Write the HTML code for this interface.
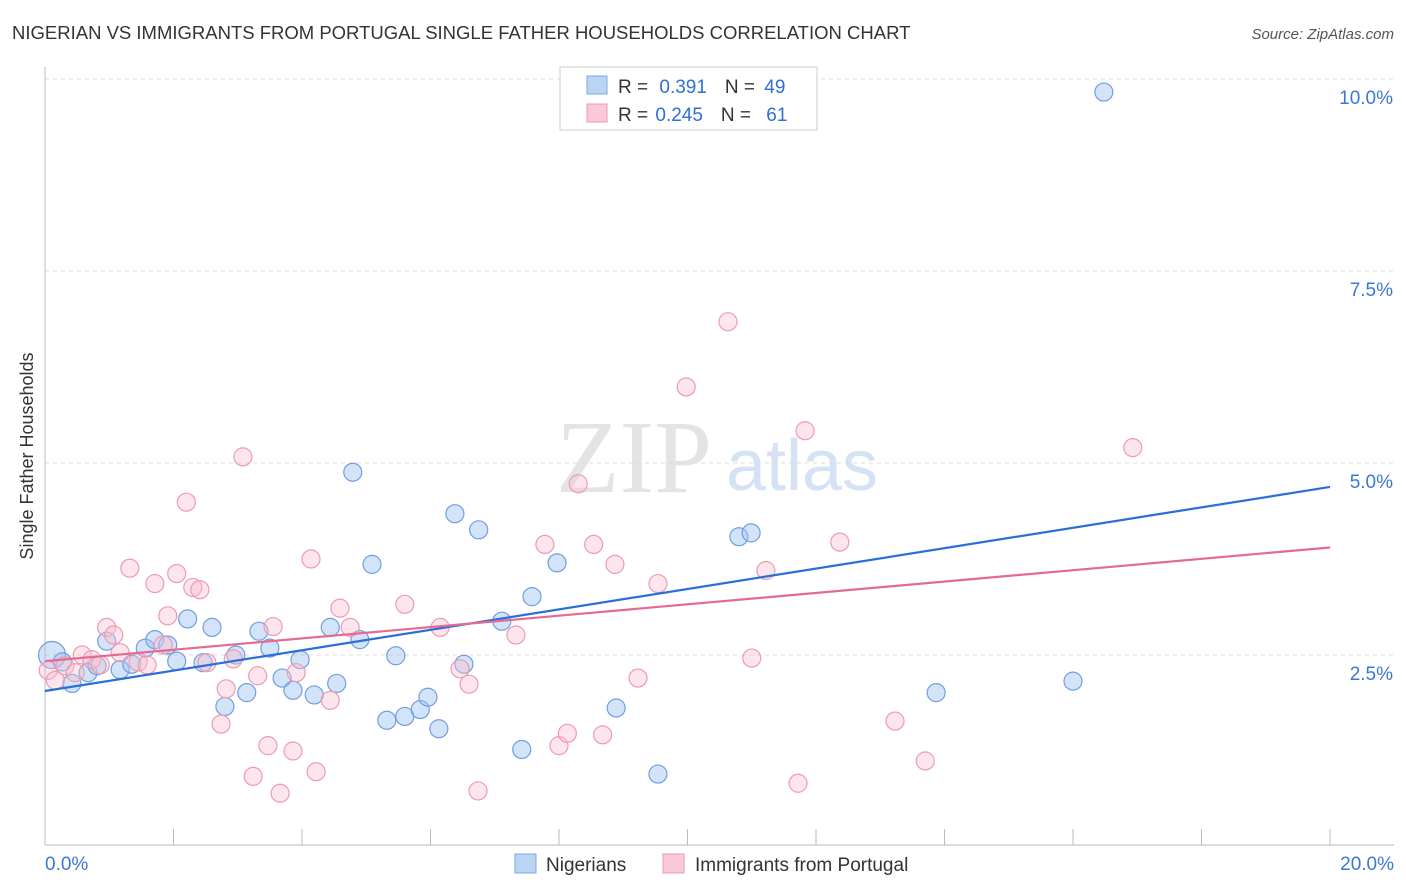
<!DOCTYPE html>
<html><head><meta charset="utf-8"><style>
body{margin:0;background:#fff;font-family:"Liberation Sans",sans-serif;}
svg{display:block}
</style></head><body>
<svg id="chart" width="1406" height="892">
<text x="12" y="39" font-size="18.5" fill="#333">NIGERIAN VS IMMIGRANTS FROM PORTUGAL SINGLE FATHER HOUSEHOLDS CORRELATION CHART</text>
<text x="1394" y="39" font-size="15" fill="#555" font-style="italic" text-anchor="end">Source: ZipAtlas.com</text>
<text x="33" y="456" font-size="18" fill="#333" text-anchor="middle" transform="rotate(-90 33 456)">Single Father Households</text>
<g>
<text x="634" y="492" font-size="104" fill="#e4e4e4" font-family="Liberation Serif,serif" text-anchor="middle">ZIP</text>
<text x="802" y="490" font-size="72" fill="#d4e2f4" text-anchor="middle">atlas</text>
</g>
<g id="grid"></g><g id="axes"></g><g id="pts"></g><g id="lines"></g>
<g>
<rect x="560" y="67" width="257" height="63" fill="#fff" stroke="#ccc"/>
<rect x="587" y="76" width="20" height="18" fill="#bcd4f4" stroke="#7aa7e6"/>
<rect x="587" y="104" width="20" height="18" fill="#f9c9d7" stroke="#ec9ab3"/>
<text x="618" y="93" font-size="19" fill="#333">R = <tspan fill="#2f6fd6" dx="6">0.391</tspan><tspan dx="18" fill="#333">N = </tspan><tspan fill="#2f6fd6" dx="4">49</tspan></text>
<text x="618" y="121" font-size="19" fill="#333">R = <tspan fill="#2f6fd6" dx="2">0.245</tspan><tspan dx="18" fill="#333">N = </tspan><tspan fill="#2f6fd6" dx="10">61</tspan></text>
</g>
<g>
<rect x="515" y="854" width="21" height="19" fill="#bcd4f4" stroke="#7aa7e6"/>
<text x="546" y="871" font-size="19" fill="#333">Nigerians</text>
<rect x="663" y="854" width="21" height="19" fill="#f9c9d7" stroke="#ec9ab3"/>
<text x="695" y="871" font-size="19" fill="#333">Immigrants from Portugal</text>
</g>
</svg>
<script>
const yTicks=[2.5,5.0,7.5,10.0];
const yTickLabels=["2.5%","5.0%","7.5%","10.0%"];
const xTickLabels=["0.0%","20.0%"];
const nigX=[0.11,0.27,0.42,0.67,0.81,0.96,1.17,1.35,1.56,1.71,1.91,2.05,2.22,2.46,2.60,2.80,2.97,3.14,3.33,3.50,3.69,3.86,3.97,4.19,4.44,4.54,4.79,4.90,5.09,5.32,5.46,5.60,5.84,5.96,6.13,6.38,6.52,6.75,7.11,7.42,7.58,7.97,8.89,9.54,10.80,10.99,13.87,16.00,16.48];
const nigY=[2.50,2.41,2.13,2.27,2.36,2.68,2.31,2.38,2.59,2.70,2.63,2.42,2.97,2.40,2.86,1.83,2.50,2.01,2.81,2.59,2.20,2.04,2.44,1.98,2.86,2.13,4.88,2.70,3.68,1.65,2.49,1.70,1.79,1.95,1.54,4.34,2.38,4.13,2.94,1.27,3.26,3.70,1.81,0.95,4.04,4.09,2.01,2.16,9.83];
const porX=[0.05,0.16,0.31,0.47,0.58,0.73,0.86,0.96,1.07,1.17,1.32,1.45,1.59,1.71,1.84,1.91,2.05,2.20,2.30,2.41,2.52,2.74,2.82,2.93,3.08,3.24,3.31,3.47,3.55,3.66,3.86,3.91,4.14,4.22,4.44,4.59,4.75,5.60,6.15,6.46,6.60,6.74,7.33,7.78,8.00,8.13,8.30,8.54,8.68,8.87,9.23,9.54,9.98,10.63,11.00,11.22,11.72,11.83,12.37,13.23,13.70,16.93];
const porY=[2.30,2.17,2.36,2.27,2.50,2.44,2.37,2.86,2.76,2.53,3.63,2.41,2.37,3.43,2.63,3.01,3.56,4.49,3.38,3.35,2.40,1.60,2.06,2.45,5.08,0.92,2.23,1.32,2.87,0.70,1.25,2.27,3.75,0.98,1.91,3.11,2.86,3.16,2.86,2.32,2.12,0.73,2.76,3.94,1.32,1.48,4.73,3.94,1.46,3.68,2.20,3.43,5.99,6.84,2.46,3.60,0.83,5.42,3.97,1.64,1.12,5.20];
const nigLine=[2.031,4.688];
const porLine=[2.42,3.90];
const X=v=>45+v/20*1285, Y=v=>847-v/2.5*192;
const NS="http://www.w3.org/2000/svg";
function mk(t,a,p){const e=document.createElementNS(NS,t);for(const k in a)e.setAttribute(k,a[k]);document.getElementById(p).appendChild(e);return e;}
yTicks.forEach((t,i)=>{
 const g=mk('line',{x1:45,x2:1394,y1:Y(t),y2:Y(t),stroke:'#ddd','stroke-dasharray':'4,4'},'grid');
 
 
 const l=mk('text',{x:1393,y:Y(t)+25,'font-size':19,fill:'#3a78d6','text-anchor':'end'},'grid');
 l.textContent=yTickLabels[i];
 
 
});
const ya=mk('line',{x1:45,x2:45,y1:67,y2:845,stroke:'#bbb'},'axes');


const xa=mk('line',{x1:45,x2:1394,y1:845,y2:845,stroke:'#bbb'},'axes');


for(let k=0;k<=10;k++){
 const t=mk('line',{x1:X(k*2),x2:X(k*2),y1:829,y2:845,stroke:'#bbb'},'axes');
 
 
}
[[0,45,'start'],[20,1394,'end']].forEach((d,i)=>{
 const l=mk('text',{x:d[1],y:870,'font-size':19,fill:'#3a78d6','text-anchor':d[2]},'axes');
 l.textContent=xTickLabels[i];
 
 
});
nigX.forEach((x,i)=>{
 const c=mk('circle',{cx:X(x),cy:Y(nigY[i]),r:i==0?13.5:9,fill:'rgba(160,195,240,0.45)',stroke:'#6f9fe0','stroke-width':1.2},'pts');
 
 
});
porX.forEach((x,i)=>{
 const c=mk('circle',{cx:X(x),cy:Y(porY[i]),r:9,fill:'rgba(248,190,208,0.4)',stroke:'#ee9ab3','stroke-width':1.2},'pts');
 
 
});
const bl=mk('line',{x1:X(0),x2:X(20),y1:Y(nigLine[0]),y2:Y(nigLine[1]),stroke:'#2a6fd8','stroke-width':2.2},'lines');


const pl=mk('line',{x1:X(0),x2:X(20),y1:Y(porLine[0]),y2:Y(porLine[1]),stroke:'#e56a92','stroke-width':2.2},'lines');


</script>
</body></html>
